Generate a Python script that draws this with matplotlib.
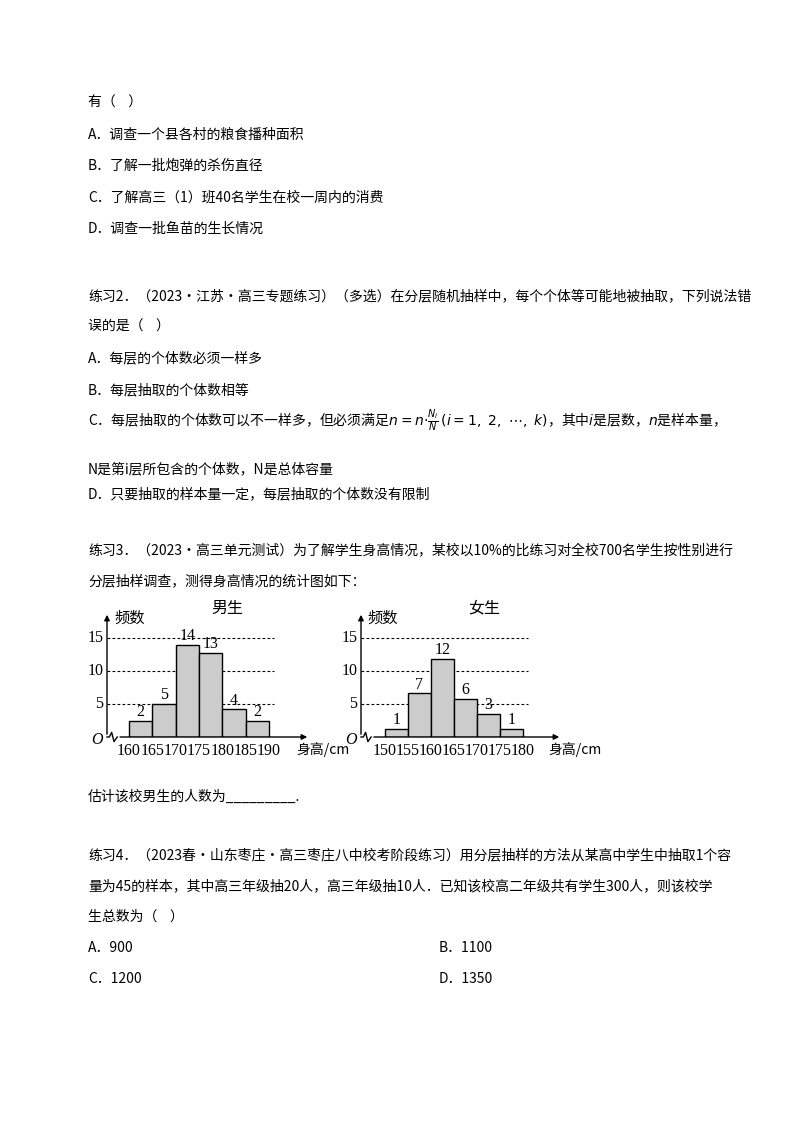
import matplotlib
matplotlib.use("Agg")
import matplotlib.pyplot as plt
import numpy as np

plt.rcParams['font.family'] = ['Noto Sans CJK SC', 'DejaVu Sans']

male_edges = [160, 165, 170, 175, 180, 185, 190]
male_counts = [2, 5, 14, 13, 4, 2]
male_drawn = [2.4, 5.0, 14.0, 12.8, 4.2, 2.4]
female_edges = [150, 155, 160, 165, 170, 175, 180]
female_counts = [1, 7, 12, 6, 3, 1]
female_drawn = [1.2, 6.6, 11.8, 5.8, 3.5, 1.2]
yticks = [5, 10, 15]

W, H = 800, 1132
fig = plt.figure(figsize=(8, 11.32), dpi=100)
FS = 10

def T(x, y, s, size=FS, **kw):
    fig.text(x / W, 1 - y / H, s, fontsize=size, va='center', ha=kw.pop('ha', 'left'), **kw)

lines = [
    (88, 103, "有（    ）"),
    (88, 135, "A．调查一个县各村的粮食播种面积"),
    (88, 166, "B．了解一批炮弹的杀伤直径"),
    (88, 198, "C．了解高三（1）班40名学生在校一周内的消费"),
    (88, 229, "D．调查一批鱼苗的生长情况"),
    (88, 296, "练习2．（2023·江苏·高三专题练习）（多选）在分层随机抽样中，每个个体等可能地被抽取，下列说法错"),
    (88, 327, "误的是（    ）"),
    (88, 358, "A．每层的个体数必须一样多"),
    (88, 390, "B．每层抽取的个体数相等"),
    (88, 421, r"C．每层抽取的个体数可以不一样多，但必须满足$n{=}n{\cdot}\frac{N_i}{N}\,(i{=}1,\ 2,\ \cdots,\ k)$，其中$i$是层数，$n$是样本量，"),
    (88, 469, "N是第i层所包含的个体数，N是总体容量"),
    (88, 494, "D．只要抽取的样本量一定，每层抽取的个体数没有限制"),
    (88, 550, "练习3．（2023·高三单元测试）为了解学生身高情况，某校以10%的比练习对全校700名学生按性别进行"),
    (88, 581, "分层抽样调查，测得身高情况的统计图如下："),
    (88, 797, "估计该校男生的人数为_________."),
    (88, 855, "练习4．（2023春·山东枣庄·高三枣庄八中校考阶段练习）用分层抽样的方法从某高中学生中抽取1个容"),
    (88, 886, "量为45的样本，其中高三年级抽20人，高三年级抽10人．已知该校高二年级共有学生300人，则该校学"),
    (88, 917, "生总数为（    ）"),
    (88, 948, "A．900"), (439, 948, "B．1100"),
    (88, 979, "C．1200"), (439, 979, "D．1350"),
]
for x, y, s in lines:
    T(x, y, s)

def chart(px_left, px_right, edges, drawn, counts, title, title_x):
    x0 = edges[0]; xe = edges[-1]
    p0 = px_left + (22 if x0 == 160 else 24)
    pe = p0 + (140 if x0 == 160 else 138)
    scale = (pe - p0) / (xe - x0)
    xmin = x0 - (p0 - px_left) / scale
    xmax = x0 + (px_right - p0) / scale
    ybot, ytop = 737, 612
    ax = fig.add_axes([px_left / W, 1 - ybot / H, (px_right - px_left) / W, (ybot - ytop) / H])
    ax.set_xlim(xmin, xmax)
    ax.set_ylim(0, (ybot - ytop) / 6.6)
    ax.axis('off')
    for yv in yticks:
        ax.plot([xmin, xe + 1], [yv, yv], ls=(0, (2.5, 2)), color='black', lw=0.8)
        ax.text(xmin - 0.8, yv, str(yv), ha='right', va='center', fontsize=11.5,
                family='Liberation Serif', clip_on=False)
    widths = np.diff(edges)
    ax.bar(edges[:-1], drawn, width=widths, align='edge', color='#cccccc',
           edgecolor='black', lw=1, zorder=3)
    for e, h, c, w in zip(edges[:-1], drawn, counts, widths):
        ax.text(e + w / 2, h + 0.1, str(c), ha='center', va='bottom', fontsize=11.5,
                family='Liberation Serif')
    for e in edges:
        ax.text(e, -0.9, str(e), ha='center', va='top', fontsize=11.5,
                family='Liberation Serif', clip_on=False)
    ax.annotate('', xy=(xmax, 0), xytext=(xmin + 2.2, 0),
                arrowprops=dict(arrowstyle='-|>', color='black', lw=1, mutation_scale=8),
                annotation_clip=False)
    zx = np.array([0, 0.5, 1.0, 1.5, 2.2]) + xmin
    zy = np.array([0, 0, 0.7, -0.7, 0])
    ax.plot(zx, zy, color='black', lw=1, clip_on=False)
    ax.annotate('', xy=(xmin, ax.get_ylim()[1]), xytext=(xmin, 0),
                arrowprops=dict(arrowstyle='-|>', color='black', lw=1, mutation_scale=8),
                annotation_clip=False)
    ax.text(xmin - 1.0, -0.4, 'O', ha='right', va='center', fontsize=11.5,
            family='Liberation Serif', style='italic', clip_on=False)
    ax.text(xmax - 3, -1.9, '身高/cm', ha='left', va='center', fontsize=10, clip_on=False)
    ax.text(xmin + 1.5, 18.0, '频数', ha='left', va='center', fontsize=11, clip_on=False)
    T(title_x, 608, title, size=11.5, ha='center')

chart(107, 310, male_edges, male_drawn, male_counts, '男生', 227)
chart(361, 562, female_edges, female_drawn, female_counts, '女生', 484)

fig.savefig('out.png', dpi=100, facecolor='white')
